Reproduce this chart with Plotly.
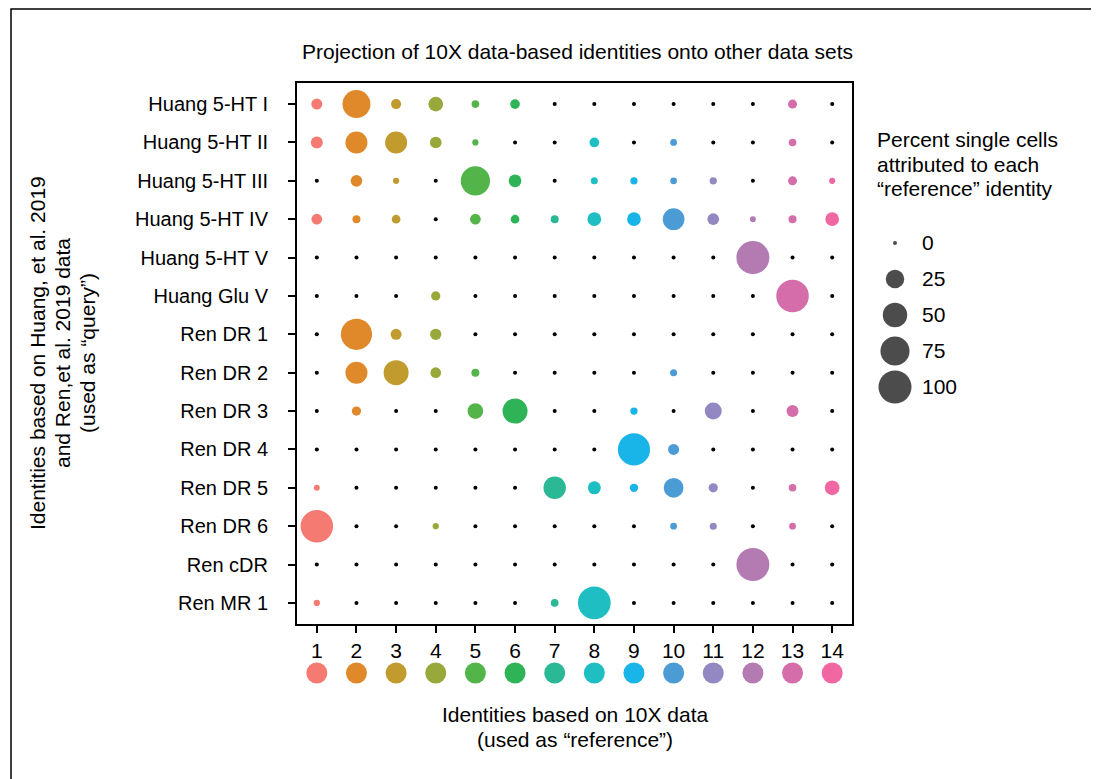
import numpy as np
import plotly.graph_objects as go

W, H = 1099, 779
OFF = 8  # page body margin of the browser

# ---------------- data ----------------
row_labels = ["Huang 5-HT I", "Huang 5-HT II", "Huang 5-HT III", "Huang 5-HT IV",
              "Huang 5-HT V", "Huang Glu V", "Ren DR 1", "Ren DR 2", "Ren DR 3",
              "Ren DR 4", "Ren DR 5", "Ren DR 6", "Ren cDR", "Ren MR 1"]
col_labels = [str(i) for i in range(1, 15)]

huang_5ht_i   = [5.8, 68.5, 4.3, 13.6, 1.6, 3.9, 0, 0, 0, 0, 0, 0, 3.0, 0]
huang_5ht_ii  = [7.6, 38.5, 38.5, 7.0, 0.6, 0, 0, 3.9, 0, 0.9, 0, 0, 1.6, 0]
huang_5ht_iii = [0, 7.0, 0.6, 0, 76.0, 9.0, 0, 1.1, 1.3, 0.9, 1.3, 0, 3.0, 0.6]
huang_5ht_iv  = [5.3, 1.9, 2.6, 0, 5.3, 2.6, 1.9, 11.2, 11.2, 37.3, 7.0, 0.4, 1.9, 11.2]
huang_5ht_v   = [0, 0, 0, 0, 0, 0, 0, 0, 0, 0, 0, 100, 0, 0]
huang_glu_v   = [0, 0, 0, 3.3, 0, 0, 0, 0, 0, 0, 0, 0, 96.7, 0]
ren_dr_1      = [0, 87.9, 5.8, 6.3, 0, 0, 0, 0, 0, 0, 0, 0, 0, 0]
ren_dr_2      = [0, 38.5, 52.4, 5.3, 1.9, 0, 0, 0, 0, 1.1, 0, 0, 0, 0]
ren_dr_3      = [0, 3.3, 0, 0, 16.3, 52.4, 0, 0, 1.3, 0, 20.1, 0, 7.6, 0]
ren_dr_4      = [0, 0, 0, 0, 0, 0, 0, 0, 94.2, 5.8, 0, 0, 0, 0]
ren_dr_5      = [0.4, 0, 0, 0, 0, 0, 40.5, 9.6, 2.2, 29.5, 3.3, 0, 1.6, 13.6]
ren_dr_6      = [96.5, 0, 0, 0.6, 0, 0, 0, 0, 0, 0.9, 1.1, 0, 0.9, 0]
ren_cdr       = [0, 0, 0, 0, 0, 0, 0, 0, 0, 0, 0, 100, 0, 0]
ren_mr_1      = [0.6, 0, 0, 0, 0, 0, 1.6, 97.8, 0, 0, 0, 0, 0, 0]

matrix = [huang_5ht_i, huang_5ht_ii, huang_5ht_iii, huang_5ht_iv, huang_5ht_v,
          huang_glu_v, ren_dr_1, ren_dr_2, ren_dr_3, ren_dr_4, ren_dr_5, ren_dr_6,
          ren_cdr, ren_mr_1]

col_colors = ["#F47A72", "#E0892A", "#C29B2F", "#98A83A", "#53B449", "#2EB457",
              "#2BB895", "#1FBEC3", "#1AB5E8", "#4B9BD4", "#9488C2", "#B47BB2",
              "#D56DAA", "#F067A2"]

legend_values = [0, 25, 50, 75, 100]
legend_labels = ["0", "25", "50", "75", "100"]

# ---------------- styling helpers ----------------
D_MIN, D_MAX = 4.0, 29.0
def diam(v):
    return D_MIN + D_MAX * np.sqrt(np.asarray(v, dtype=float) / 100.0)

FONT = "Arial, Liberation Sans, sans-serif"
FS = 21
FS_TICK = 20

def px_x(p):
    return (p - OFF) / W

def px_y(p):
    return 1 - (p - OFF) / H

xs, ys, sizes, colors = [], [], [], []
for r, row in enumerate(matrix):
    for c, v in enumerate(row):
        xs.append(c + 1)
        ys.append(r + 1)
        sizes.append(float(diam(v)))
        colors.append(col_colors[c] if v > 0 else "black")

fig = go.Figure()

fig.add_trace(go.Scatter(
    x=xs, y=ys, mode="markers",
    marker=dict(size=sizes, color=colors, line=dict(width=0), opacity=1),
    xaxis="x", yaxis="y", showlegend=False, hoverinfo="skip", cliponaxis=False))

# colour key strip under the x axis
fig.add_trace(go.Scatter(
    x=list(range(1, 15)), y=[0] * 14, mode="markers",
    marker=dict(size=21, color=col_colors, line=dict(width=0)),
    xaxis="x2", yaxis="y2", showlegend=False, hoverinfo="skip", cliponaxis=False))

# size legend
fig.add_trace(go.Scatter(
    x=[0] * len(legend_values), y=list(range(len(legend_values))), mode="markers",
    marker=dict(size=[float(d) for d in diam(legend_values)], color="black", line=dict(width=0)),
    xaxis="x3", yaxis="y3", showlegend=False, hoverinfo="skip", cliponaxis=False))

px_left, px_right, px_top, px_bot = 297, 852, 83, 624

fig.update_layout(
    width=W, height=H,
    margin=dict(l=0, r=0, t=0, b=0),
    paper_bgcolor="white", plot_bgcolor="white",
    font=dict(family=FONT, size=FS, color="black"),
    xaxis=dict(domain=[px_x(px_left), px_x(px_right)], range=[0.5, 14.5],
               tickvals=list(range(1, 15)), ticktext=col_labels,
               showgrid=False, zeroline=False, showline=True, linecolor="black",
               linewidth=2, mirror=True, ticks="outside", ticklen=7, tickwidth=1.5,
               tickcolor="black", automargin=False, anchor="y",
               tickfont=dict(size=FS)),
    yaxis=dict(domain=[px_y(px_bot), px_y(px_top)], range=[14.55, 0.45],
               tickvals=list(range(1, 15)), ticktext=row_labels,
               showgrid=False, zeroline=False, showline=True, linecolor="black",
               linewidth=2, mirror=True, ticks="outside", ticklen=7, tickwidth=1.5,
               tickcolor="black", automargin=False, anchor="x",
               ticklabelstandoff=16, tickfont=dict(size=FS_TICK)),
    xaxis2=dict(domain=[px_x(px_left), px_x(px_right)], range=[0.5, 14.5],
                visible=False, anchor="y2"),
    yaxis2=dict(domain=[px_y(690), px_y(656)], range=[-1, 1], visible=False, anchor="x2"),
    xaxis3=dict(domain=[px_x(880), px_x(910)], range=[-1, 1], visible=False, anchor="y3"),
    yaxis3=dict(domain=[px_y(405), px_y(225)], range=[4.5, -0.5], anchor="x3",
                side="right", showline=False, showgrid=False, zeroline=False,
                ticks="", tickvals=list(range(len(legend_values))), ticktext=legend_labels,
                ticklabelstandoff=11, automargin=False, tickfont=dict(size=FS)),
)

annotations = []
# main title
annotations.append(dict(text="Projection of 10X data-based identities onto other data sets",
                        x=px_x(577), y=px_y(52), xref="paper", yref="paper",
                        showarrow=False, xanchor="center", yanchor="middle",
                        font=dict(size=FS)))
# x axis title
for txt, yy in [("Identities based on 10X data", 714), ("(used as \u201creference\u201d)", 739)]:
    annotations.append(dict(text=txt, x=px_x(575), y=px_y(yy), xref="paper", yref="paper",
                            showarrow=False, xanchor="center", yanchor="middle",
                            font=dict(size=FS)))
# y axis title (three rotated lines)
for txt, xx in [("Identities based on Huang, et al. 2019", 37),
                ("and Ren,et al. 2019 data", 62),
                ("(used as \u201cquery\u201d)", 87)]:
    annotations.append(dict(text=txt, x=px_x(xx), y=px_y(353), xref="paper", yref="paper",
                            showarrow=False, xanchor="center", yanchor="middle",
                            textangle=-90, font=dict(size=FS)))
# legend title
for txt, yy in [("Percent single cells", 140), ("attributed to each", 164),
                ("\u201creference\u201d identity", 188)]:
    annotations.append(dict(text=txt, x=px_x(875), y=px_y(yy), xref="paper", yref="paper",
                            showarrow=False, xanchor="left", yanchor="middle",
                            font=dict(size=FS)))
fig.update_layout(annotations=annotations)

# outer frame
fig.add_shape(type="rect", xref="paper", yref="paper",
              x0=px_x(11), x1=px_x(1096), y0=px_y(800), y1=px_y(9),
              line=dict(color="black", width=1.5), fillcolor="rgba(0,0,0,0)", layer="above")

fig.write_html("out.html")
